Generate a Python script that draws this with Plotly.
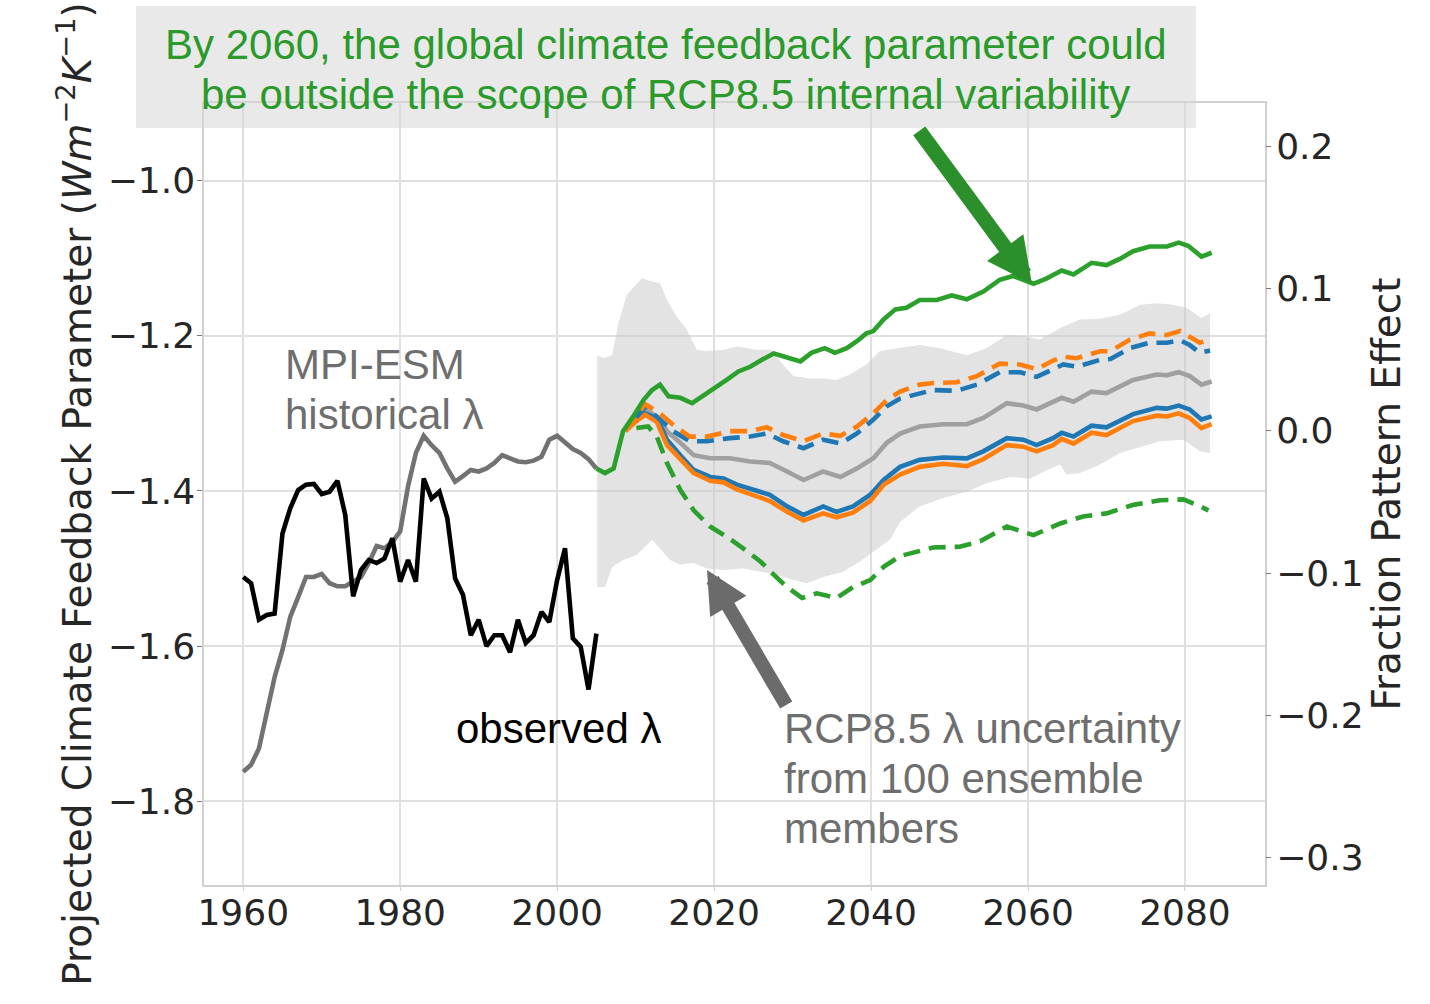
import plotly.graph_objects as go

# ---- data -----------------------------------------------------------------
hist_years = list(range(1960, 2006))
# MPI-ESM historical feedback parameter (W m-2 K-1)
mpi_hist = [-1.762, -1.753, -1.732, -1.683, -1.640, -1.605, -1.562, -1.537, -1.511, -1.511,
            -1.507, -1.519, -1.523, -1.523, -1.517, -1.511, -1.493, -1.471, -1.474, -1.466,
            -1.452, -1.394, -1.351, -1.329, -1.341, -1.351, -1.371, -1.388, -1.381, -1.373,
            -1.375, -1.371, -1.364, -1.354, -1.358, -1.362, -1.363, -1.361, -1.356, -1.334,
            -1.329, -1.338, -1.346, -1.351, -1.359, -1.371]
# observed feedback parameter
observed = [-1.511, -1.519, -1.566, -1.560, -1.558, -1.455, -1.422, -1.399, -1.392, -1.391,
            -1.404, -1.401, -1.387, -1.431, -1.536, -1.502, -1.489, -1.493, -1.487, -1.461,
            -1.517, -1.489, -1.517, -1.384, -1.410, -1.401, -1.435, -1.513, -1.534, -1.586,
            -1.566, -1.600, -1.586, -1.586, -1.608, -1.566, -1.596, -1.586, -1.556, -1.569,
            -1.515, -1.474, -1.590, -1.601, -1.656, -1.584]

# RCP8.5 ensemble spread (upper / lower envelope)
band_up_years = [2005.1, 2005.9, 2007.0, 2007.8, 2008.9, 2010.8, 2012.1, 2013.1, 2014.0, 2015.2,
                 2016.5, 2017.8, 2018.9, 2021.2, 2022.9, 2025.4, 2027.3, 2028.6, 2030.1, 2032.2,
                 2033.9, 2035.6, 2037.3, 2039.4, 2041.1, 2043.3, 2046.2, 2048.8, 2052.2, 2054.7,
                 2057.3, 2059.8, 2061.5, 2064.1, 2066.6, 2069.2, 2071.7, 2074.3, 2076.4, 2078.5,
                 2080.2, 2082.1, 2083.2]
band_up = [-1.225, -1.229, -1.225, -1.184, -1.147, -1.126, -1.130, -1.132, -1.154, -1.175,
           -1.192, -1.218, -1.220, -1.218, -1.214, -1.218, -1.218, -1.235, -1.252, -1.255,
           -1.255, -1.257, -1.250, -1.237, -1.220, -1.216, -1.212, -1.216, -1.225, -1.216,
           -1.199, -1.201, -1.205, -1.190, -1.179, -1.178, -1.173, -1.160, -1.158, -1.160,
           -1.164, -1.177, -1.171]
band_lo_years = [2005.1, 2006.1, 2007.0, 2008.4, 2010.1, 2012.1, 2013.1, 2014.4, 2015.7, 2017.4,
                 2019.1, 2021.2, 2023.7, 2025.9, 2028.0, 2030.1, 2031.8, 2033.9, 2036.5, 2038.6,
                 2040.3, 2042.4, 2043.7, 2046.2, 2049.2, 2052.2, 2054.7, 2057.7, 2060.3, 2062.4,
                 2064.1, 2064.9, 2066.6, 2069.2, 2071.7, 2074.3, 2076.8, 2079.8, 2081.9, 2083.2]
band_lo = [-1.524, -1.524, -1.498, -1.489, -1.483, -1.463, -1.474, -1.489, -1.495, -1.493,
           -1.500, -1.502, -1.500, -1.504, -1.508, -1.515, -1.519, -1.511, -1.504, -1.491,
           -1.478, -1.463, -1.440, -1.420, -1.409, -1.401, -1.390, -1.382, -1.384, -1.373,
           -1.366, -1.379, -1.377, -1.366, -1.351, -1.343, -1.336, -1.334, -1.349, -1.351]

# ensemble mean
mean_years = [2010.1, 2011.2, 2012.7, 2014.0, 2015.7, 2017.4, 2019.5, 2022.0, 2024.6, 2027.1,
              2029.3, 2031.4, 2033.9, 2036.1, 2038.2, 2040.3, 2042.0, 2043.7, 2046.2, 2049.2,
              2052.2, 2054.3, 2057.3, 2059.4, 2061.1, 2063.2, 2064.3, 2065.8, 2068.1, 2070.0,
              2073.4, 2076.4, 2077.7, 2079.2, 2080.6, 2082.1, 2083.4]
ens_mean = [-1.300, -1.295, -1.304, -1.323, -1.338, -1.354, -1.358, -1.358, -1.362, -1.364,
            -1.375, -1.386, -1.375, -1.382, -1.371, -1.358, -1.338, -1.326, -1.317, -1.314,
            -1.314, -1.306, -1.287, -1.290, -1.295, -1.286, -1.280, -1.285, -1.272, -1.274,
            -1.257, -1.250, -1.251, -1.247, -1.252, -1.263, -1.259]

# blue / orange solid
solid_years_b = [2010.1, 2011.2, 2012.7, 2014.0, 2015.7, 2017.4, 2019.5, 2021.2, 2022.9, 2025.0,
                 2027.1, 2029.3, 2031.4, 2033.9, 2035.6, 2037.7, 2039.9, 2041.6, 2043.7, 2046.2,
                 2049.2, 2052.2, 2054.3, 2057.3, 2059.4, 2061.1, 2063.2, 2064.3, 2065.8, 2068.1,
                 2070.0, 2073.4, 2076.4, 2077.7, 2079.2, 2080.6, 2082.1, 2083.4]
blue_solid = [-1.308, -1.300, -1.306, -1.334, -1.354, -1.373, -1.382, -1.384, -1.392, -1.399,
              -1.405, -1.420, -1.431, -1.420, -1.427, -1.420, -1.405, -1.386, -1.369, -1.360,
              -1.357, -1.358, -1.349, -1.332, -1.334, -1.341, -1.332, -1.325, -1.330, -1.316,
              -1.318, -1.301, -1.293, -1.294, -1.290, -1.295, -1.308, -1.304]
solid_years_o = [2008.7, 2010.1, 2011.2, 2012.7, 2014.0, 2015.7, 2017.4, 2019.5, 2021.2, 2022.9,
                 2025.0, 2027.1, 2029.3, 2031.4, 2033.9, 2035.6, 2037.7, 2039.9, 2041.6, 2043.7,
                 2046.2, 2049.2, 2052.2, 2054.3, 2057.3, 2059.4, 2061.1, 2063.2, 2064.3, 2065.8,
                 2068.1, 2070.0, 2073.4, 2076.4, 2077.7, 2079.2, 2080.6, 2082.1, 2083.4]
orange_solid = [-1.323, -1.310, -1.302, -1.311, -1.341, -1.360, -1.377, -1.387, -1.389, -1.398,
                -1.406, -1.413, -1.427, -1.438, -1.429, -1.434, -1.428, -1.413, -1.392, -1.379,
                -1.369, -1.365, -1.368, -1.359, -1.341, -1.343, -1.349, -1.341, -1.333, -1.339,
                -1.325, -1.328, -1.310, -1.303, -1.304, -1.300, -1.306, -1.319, -1.314]

# blue / orange dashed
dash_years_b = [2010.1, 2011.2, 2013.1, 2014.8, 2016.9, 2019.1, 2022.0, 2024.6, 2026.7, 2028.8,
                2031.4, 2033.9, 2036.1, 2038.2, 2040.3, 2042.0, 2043.7, 2046.2, 2047.9, 2050.9,
                2053.5, 2056.4, 2059.0, 2061.1, 2063.2, 2064.5, 2066.2, 2069.2, 2070.5, 2073.0,
                2075.5, 2077.7, 2079.4, 2080.6, 2081.9, 2083.2]
blue_dash = [-1.305, -1.291, -1.308, -1.323, -1.336, -1.336, -1.332, -1.330, -1.326, -1.336,
             -1.345, -1.334, -1.339, -1.326, -1.308, -1.291, -1.281, -1.274, -1.270, -1.271,
             -1.263, -1.247, -1.247, -1.253, -1.243, -1.237, -1.240, -1.231, -1.230, -1.216,
             -1.209, -1.209, -1.206, -1.212, -1.222, -1.219]
dash_years_o = [2008.7, 2011.2, 2013.1, 2014.8, 2016.9, 2019.1, 2022.0, 2024.6, 2026.7, 2028.8,
                2031.4, 2033.9, 2036.1, 2038.2, 2040.3, 2042.0, 2043.7, 2046.2, 2047.9, 2050.9,
                2053.5, 2056.4, 2059.0, 2061.1, 2063.2, 2064.5, 2066.2, 2069.2, 2070.5, 2073.0,
                2075.5, 2077.7, 2079.4, 2080.6, 2081.9, 2083.2]
orange_dash = [-1.323, -1.288, -1.300, -1.315, -1.330, -1.330, -1.323, -1.323, -1.318, -1.328,
               -1.336, -1.326, -1.329, -1.317, -1.300, -1.283, -1.272, -1.263, -1.261, -1.260,
               -1.252, -1.236, -1.237, -1.243, -1.232, -1.227, -1.229, -1.220, -1.220, -1.205,
               -1.197, -1.199, -1.194, -1.201, -1.209, -1.205]

# green solid (upper extreme) and green dashed (lower extreme)
green_years = [2005.0, 2006.1, 2007.2, 2008.4, 2009.7, 2011.0, 2012.1, 2013.1, 2014.2, 2015.7,
               2017.2, 2018.6, 2020.1, 2021.6, 2023.1, 2024.6, 2026.1, 2027.6, 2029.0, 2031.0,
               2032.4, 2034.1, 2035.4, 2036.9, 2038.2, 2039.4, 2040.3, 2041.6, 2043.1, 2044.5,
               2046.2, 2048.4, 2050.3, 2052.2, 2054.3, 2056.4, 2058.1, 2060.7, 2062.4, 2064.3,
               2065.8, 2068.1, 2070.0, 2071.7, 2073.4, 2075.5, 2077.7, 2079.2, 2080.4, 2082.1,
               2083.4]
green_solid = [-1.371, -1.377, -1.371, -1.323, -1.304, -1.283, -1.270, -1.263, -1.278, -1.280,
               -1.287, -1.278, -1.268, -1.257, -1.246, -1.240, -1.231, -1.223, -1.227, -1.233,
               -1.222, -1.216, -1.222, -1.216, -1.207, -1.197, -1.194, -1.179, -1.166, -1.164,
               -1.154, -1.154, -1.148, -1.153, -1.143, -1.128, -1.123, -1.133, -1.126, -1.116,
               -1.121, -1.106, -1.109, -1.101, -1.091, -1.085, -1.085, -1.080, -1.084, -1.098,
               -1.093]
green_dash_years = [2010.1, 2011.6, 2012.7, 2014.0, 2015.7, 2017.4, 2019.5, 2021.6, 2023.7, 2025.9,
                    2027.6, 2029.3, 2031.2, 2033.1, 2035.6, 2037.7, 2039.9, 2041.6, 2043.7, 2047.9,
                    2051.3, 2053.9, 2057.3, 2060.7, 2064.1, 2067.0, 2070.0, 2073.4, 2076.8, 2079.8,
                    2081.5, 2083.0]
green_dash = [-1.319, -1.317, -1.330, -1.364, -1.399, -1.425, -1.446, -1.459, -1.474, -1.491,
              -1.508, -1.524, -1.538, -1.532, -1.538, -1.524, -1.515, -1.498, -1.484, -1.473,
              -1.472, -1.465, -1.446, -1.457, -1.442, -1.433, -1.429, -1.418, -1.412, -1.411,
              -1.418, -1.425]

x_ticks = [1960, 1980, 2000, 2020, 2040, 2060, 2080]
left_ticks = [-1.8, -1.6, -1.4, -1.2, -1.0]
right_ticks = [-0.3, -0.2, -0.1, 0.0, 0.1, 0.2]

# ---- styling ----------------------------------------------------------------
BLUE, ORANGE, GREEN = "#1f77b4", "#ff7f0e", "#2ca02c"
HIST_GRAY, MEAN_GRAY, TEXT_GRAY = "#727272", "#a0a0a0", "#6e6e6e"
ARROW_GREEN = "#2b8f2b"
LW = 4.6
DASH = "17px,9px"
TICK_FONT = dict(family="DejaVu Sans", size=36, color="#262626")
TITLE_FONT = dict(family="DejaVu Sans", size=39, color="#262626")
NOTE_FONT = "Liberation Sans"

fig = go.Figure()

# ensemble envelope
fig.add_trace(go.Scatter(
    x=band_up_years + band_lo_years[::-1],
    y=band_up + band_lo[::-1],
    fill="toself", fillcolor="rgba(200,200,200,0.5)",
    line=dict(width=0), mode="lines", hoverinfo="skip"))

fig.add_trace(go.Scatter(x=hist_years, y=mpi_hist, mode="lines",
                         line=dict(color=HIST_GRAY, width=LW)))
fig.add_trace(go.Scatter(x=hist_years, y=observed, mode="lines",
                         line=dict(color="black", width=LW)))
fig.add_trace(go.Scatter(x=mean_years, y=ens_mean, mode="lines",
                         line=dict(color=MEAN_GRAY, width=LW)))
fig.add_trace(go.Scatter(x=solid_years_b, y=blue_solid, mode="lines",
                         line=dict(color=BLUE, width=LW)))
fig.add_trace(go.Scatter(x=solid_years_o, y=orange_solid, mode="lines",
                         line=dict(color=ORANGE, width=LW)))
fig.add_trace(go.Scatter(x=dash_years_b, y=blue_dash, mode="lines",
                         line=dict(color=BLUE, width=LW, dash=DASH)))
fig.add_trace(go.Scatter(x=dash_years_o, y=orange_dash, mode="lines",
                         line=dict(color=ORANGE, width=LW, dash=DASH)))
fig.add_trace(go.Scatter(x=green_years, y=green_solid, mode="lines",
                         line=dict(color=GREEN, width=LW)))
fig.add_trace(go.Scatter(x=green_dash_years, y=green_dash, mode="lines",
                         line=dict(color=GREEN, width=LW, dash=DASH)))
# empty trace bound to the right-hand axis so that it is rendered
fig.add_trace(go.Scatter(x=[], y=[], yaxis="y2", mode="lines", hoverinfo="skip"))

# headline box behind the two green lines of text
fig.add_shape(type="rect", xref="paper", yref="paper",
              x0=-0.0641, x1=0.935, y0=0.968, y1=1.124,
              fillcolor="rgba(215,215,215,0.55)", line=dict(width=0), layer="above")

notes = [
    # text, x, y, xref, yref, xanchor, color
    ("By 2060, the global climate feedback parameter could", 0.4354, 1.0742, "paper", "paper", "center", "#2a9a2a"),
    ("be outside the scope of RCP8.5 internal variability", 0.4354, 1.0115, "paper", "paper", "center", "#2a9a2a"),
    ("MPI-ESM", 1965.1, -1.2374, "x", "y", "left", TEXT_GRAY),
    ("historical λ", 1965.1, -1.3020, "x", "y", "left", TEXT_GRAY),
    ("observed λ", 1986.9, -1.7065, "x", "y", "left", "black"),
    ("RCP8.5 λ uncertainty", 2028.7, -1.7060, "x", "y", "left", TEXT_GRAY),
    ("from 100 ensemble", 2028.7, -1.7705, "x", "y", "left", TEXT_GRAY),
    ("members", 2028.7, -1.8350, "x", "y", "left", TEXT_GRAY),
]
for text, x, y, xr, yr, xa, col in notes:
    fig.add_annotation(text=text, x=x, y=y, xref=xr, yref=yr, xanchor=xa,
                       yanchor="middle", showarrow=False,
                       font=dict(family=NOTE_FONT, size=42, color=col))

# pointer arrows
fig.add_annotation(x=2060.5, y=-1.133, ax=2046.0, ay=-0.934, xref="x", yref="y",
                   axref="x", ayref="y", text="", showarrow=True, arrowhead=2,
                   arrowsize=0.6, arrowwidth=15, arrowcolor=ARROW_GREEN, standoff=0)
fig.add_annotation(x=2019.1, y=-1.502, ax=2029.3, ay=-1.678, xref="x", yref="y",
                   axref="x", ayref="y", text="", showarrow=True, arrowhead=2,
                   arrowsize=0.6, arrowwidth=14, arrowcolor="#6b6b6b", standoff=0)

GRID = "#e0e0e0"
SPINE = "#d0d0d0"
fig.update_layout(
    width=1430, height=1004,
    margin=dict(l=204, r=165, t=103, b=119),
    paper_bgcolor="white", plot_bgcolor="white",
    showlegend=False,
    xaxis=dict(range=[1955, 2090.2], tickvals=x_ticks, showgrid=True,
               gridcolor=GRID, gridwidth=1.5, zeroline=False,
               showline=True, linecolor=SPINE, linewidth=1.5, mirror=True,
               ticks="outside", ticklen=4, tickcolor=SPINE,
               ticklabelstandoff=-9, tickfont=TICK_FONT),
    yaxis=dict(range=[-1.908, -0.9], tickvals=left_ticks, tickformat=".1f",
               showgrid=True, gridcolor=GRID, gridwidth=1.5, zeroline=False,
               showline=True, linecolor=SPINE, linewidth=1.5, mirror=True,
               ticks="outside", ticklen=5, tickcolor="#777777",
               ticklabelstandoff=-5, tickfont=TICK_FONT,
               title=dict(text="Projected Climate Feedback Parameter (<i>Wm</i><sup>−2</sup><i>K</i><sup>−1</sup>)",
                          font=TITLE_FONT, standoff=4)),
    yaxis2=dict(range=[-0.3195, 0.2307], tickvals=right_ticks, tickformat=".1f",
                overlaying="y", side="right", anchor="x", showgrid=False, zeroline=False,
                showline=False, ticks="outside", ticklen=5, tickcolor="#777777",
                ticklabelstandoff=-2, tickfont=TICK_FONT,
                title=dict(text="Fraction Pattern Effect", font=TITLE_FONT, standoff=6)),
)

fig.write_html("out.html")
